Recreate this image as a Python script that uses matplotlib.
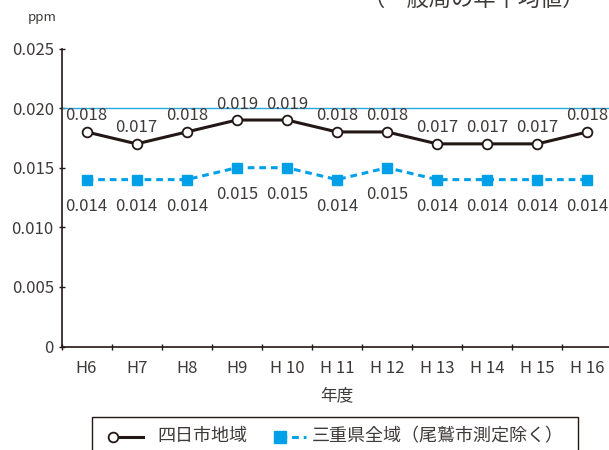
import matplotlib.pyplot as plt
from matplotlib.lines import Line2D
from matplotlib.patches import Rectangle

plt.rcParams['font.family'] = ['Noto Sans CJK JP', 'DejaVu Sans']

# data
years = ['H6', 'H7', 'H8', 'H9', 'H 10', 'H 11', 'H 12', 'H 13', 'H 14', 'H 15', 'H 16']
yokkaichi = [0.018, 0.017, 0.018, 0.019, 0.019, 0.018, 0.018, 0.017, 0.017, 0.017, 0.018]
mie_all = [0.014, 0.014, 0.014, 0.015, 0.015, 0.014, 0.015, 0.014, 0.014, 0.014, 0.014]
standard = 0.020

dark = '#231815'
blue = '#00a0e9'
textc = '#3e3a39'

fig = plt.figure(figsize=(6.09, 4.5), dpi=100)
ax = fig.add_axes([61.5 / 609, 1 - 346.5 / 450, 551 / 609, 298 / 450])

x = list(range(len(years)))
ax.plot(x, yokkaichi, color=dark, lw=2.2, marker='o', ms=7,
        mfc='white', mec=dark, mew=1.3, zorder=4)
ax.plot(x, mie_all, color=blue, lw=2.2, ls=(0, (2.2, 1.6)), marker='s', ms=7.5,
        mfc=blue, mec=blue, zorder=3)
ax.axhline(standard, color='#29a8e0', lw=1.0, zorder=2)

for i, v in enumerate(yokkaichi):
    ax.annotate(f'{v:.3f}', (i, v), xytext=(0, 11.5), textcoords='offset points',
                ha='center', va='center', fontsize=12, color=textc)
for i, v in enumerate(mie_all):
    ax.annotate(f'{v:.3f}', (i, v), xytext=(0, -19), textcoords='offset points',
                ha='center', va='center', fontsize=12, color=textc)

ax.set_xlim(-0.5, len(years) - 0.5)
ax.set_ylim(0, 0.025)
ax.set_yticks([0, 0.005, 0.010, 0.015, 0.020, 0.025])
ax.set_yticklabels(['0', '0.005', '0.010', '0.015', '0.020', '0.025'],
                   fontsize=12, color=textc)
ax.set_xticks([i + 0.5 for i in range(-1, len(years))])
ax.set_xticklabels([])
ax.set_xticks(x, minor=True)
ax.set_xticklabels(years, minor=True, fontsize=12, color=textc)
ax.tick_params(axis='x', which='minor', length=0, pad=10)
ax.tick_params(axis='x', which='major', length=5, direction='inout', width=1, color=dark)
ax.tick_params(axis='y', length=5, direction='inout', width=1, color=dark, pad=3)
ax.set_xlabel('年度', fontsize=12, color=textc, labelpad=7)

for s in ['top', 'right']:
    ax.spines[s].set_visible(False)
for s in ['left', 'bottom']:
    ax.spines[s].set_color(dark)
    ax.spines[s].set_linewidth(1.2)

fig.text(28 / 609, 1 - 17 / 450, 'ppm', fontsize=9.5, color=textc, ha='left', va='center')
fig.text(585 / 609, 1 - 6 / 450, '（一般局の年平均値）', fontsize=16, color=textc,
         ha='right', va='baseline')

# legend drawn by hand (marker sits at the left of the sample line)
fig.add_artist(Rectangle((92 / 609, -0.05), 486 / 609, 0.05 + 1 - 417 / 450,
                         transform=fig.transFigure, fill=False, ec=dark, lw=1.0))
ly = 1 - 436.5 / 450
fig.add_artist(Line2D([113 / 609, 143 / 609], [ly, ly], transform=fig.transFigure,
                      color=dark, lw=2.2))
fig.add_artist(Line2D([113 / 609], [ly], transform=fig.transFigure, marker='o', ms=7,
                      mfc='white', mec=dark, mew=1.3, ls='none'))
fig.text(157 / 609, ly, '四日市地域', fontsize=13, color=textc, va='center')
fig.add_artist(Line2D([280 / 609, 306 / 609], [ly, ly], transform=fig.transFigure,
                      color=blue, lw=2.2, ls=(0, (2.2, 1.6))))
fig.add_artist(Line2D([280 / 609], [ly], transform=fig.transFigure, marker='s', ms=8,
                      mfc=blue, mec=blue, ls='none'))
fig.text(312 / 609, ly, '三重県全域（尾鷲市測定除く）', fontsize=13, color=textc, va='center')

fig.savefig('out.png', dpi=100)
